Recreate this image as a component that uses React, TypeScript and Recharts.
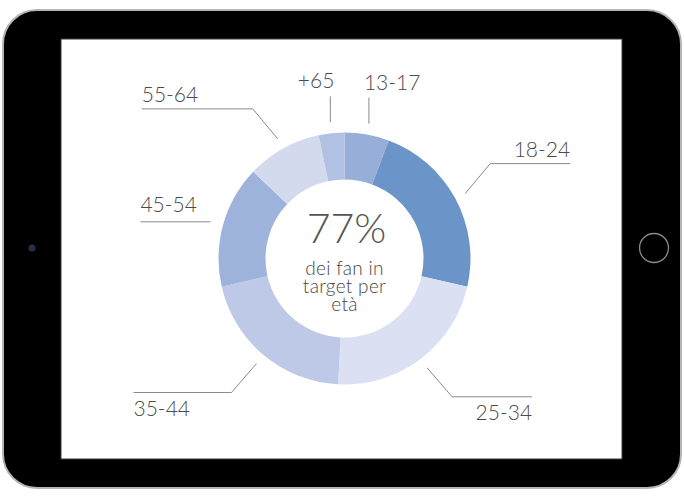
import React from 'react';
import { PieChart, Pie, Cell } from 'recharts';

const categories = ['13-17', '18-24', '25-34', '35-44', '45-54', '55-64', '+65'];
const shares = [5.7, 22.9, 22.2, 20.6, 15.7, 9.6, 3.3];
const sliceColors = ['#97aed8', '#6b95c9', '#dbe1f2', '#bdc9e7', '#9eb3dc', '#d3daee', '#b1c1e3'];
const headline = '77%';
const captionLines = ['dei fan in', 'target per', 'età'];

const data = categories.map((name, i) => ({ name, value: shares[i] }));

const W = 684;
const H = 496;
const CX = 344.5;
const CY = 258.5;
const FONT = 'Lato, "Open Sans", sans-serif';
const TEXT = '#4a4a4a';
const LINE = '#8a8a8a';

const RAD = Math.PI / 180;

function renderLabel(props: any) {
  const { cx, cy, midAngle, outerRadius, index } = props;
  const name = categories[index];
  const c = Math.cos(-midAngle * RAD);
  const s = Math.sin(-midAngle * RAD);
  const at = (r: number) => [cx + r * c, cy + r * s];
  const textProps = { fontFamily: FONT, fontWeight: 300, fontSize: 21, fill: TEXT, stroke: 'none' };
  const right = c >= 0;

  if (Math.abs(c) < 0.25 && s < 0) {
    const [x0, y0] = at(outerRadius + 11);
    const y1 = y0 - 26;
    return (
      <g key={`l-${index}`}>
        <line x1={x0} y1={y0} x2={x0} y2={y1} stroke={LINE} strokeWidth={1} />
        <text x={right ? x0 - 5 : x0 + 4} y={y1 - 8} textAnchor={right ? 'start' : 'end'} {...textProps}>
          {name}
        </text>
      </g>
    );
  }

  if (Math.abs(s) < 0.35) {
    const [x0, y0] = at(outerRadius + 13);
    const x1 = right ? x0 + 70 : x0 - 70;
    return (
      <g key={`l-${index}`}>
        <line x1={x0} y1={y0} x2={x1} y2={y0} stroke={LINE} strokeWidth={1} />
        <text x={x1} y={y0 - 10} textAnchor={right ? 'end' : 'start'} {...textProps}>
          {name}
        </text>
      </g>
    );
  }

  const below = s > 0;
  const [x0, y0] = at(outerRadius + 11);
  const xe = right ? x0 + 25 : x0 - 25;
  const ye = below ? y0 + 29 : y0 - 30;
  const run = right ? 80 : below ? 98 : 111;
  const x2 = right ? xe + run : xe - run;
  return (
    <g key={`l-${index}`}>
      <polyline points={`${x0},${y0} ${xe},${ye} ${x2},${ye}`} fill="none" stroke={LINE} strokeWidth={1} />
      <text x={x2} y={below ? ye + 23 : ye - 7} textAnchor={right ? 'end' : 'start'} {...textProps}>
        {name}
      </text>
    </g>
  );
}

function CenterText() {
  return (
    <svg width={W} height={H} style={{ position: 'absolute', left: 0, top: 0, pointerEvents: 'none' }}>
      <text x={CX + 2} y={CY - 16} textAnchor="middle" fontFamily={FONT} fontWeight={300} fontSize={41} fill="#555">
        {headline}
      </text>
      {captionLines.map((t, i) => (
        <text
          key={t}
          x={CX}
          y={CY + 16.5 + i * 18}
          textAnchor="middle"
          fontFamily={FONT}
          fontWeight={300}
          fontSize={19}
          letterSpacing={0.3}
          fill="#474747"
        >
          {t}
        </text>
      ))}
    </svg>
  );
}

function DeviceFrame() {
  return (
    <svg width={W} height={H} style={{ position: 'absolute', left: 0, top: 0 }}>
      <rect x={0} y={0} width={W} height={H} fill="#ffffff" />
      <rect x={3} y={10} width={678} height={478} rx={34} ry={34} fill="#000" stroke="#b5b5b5" strokeWidth={2} />
      <rect x={61} y={39} width={561} height={420} fill="#fff" stroke="#3a3a3a" strokeWidth={1} />
      <circle cx={32} cy={248} r={3.5} fill="#25314d" />
      <circle cx={654} cy={248} r={14.5} fill="none" stroke="#8a8a8a" strokeWidth={1.3} />
    </svg>
  );
}

export default function App() {
  return (
    <div style={{ position: 'fixed', left: 0, top: 0, width: W, height: H, background: '#fff' }}>
      <DeviceFrame />
      <div style={{ position: 'absolute', left: 0, top: 0 }}>
        <PieChart width={W} height={H} margin={{ top: 0, right: 0, bottom: 0, left: 0 }}>
          <Pie
            data={data}
            dataKey="value"
            nameKey="name"
            cx={CX}
            cy={CY}
            innerRadius={79}
            outerRadius={126}
            startAngle={90}
            endAngle={-270}
            stroke="none"
            isAnimationActive={false}
            label={renderLabel}
            labelLine={false}
          >
            {data.map((d, i) => (
              <Cell key={d.name} fill={sliceColors[i]} />
            ))}
          </Pie>
        </PieChart>
      </div>
      <CenterText />
    </div>
  );
}
